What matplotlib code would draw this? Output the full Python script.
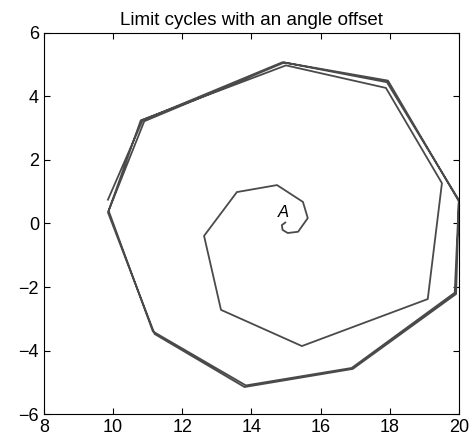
import numpy as np
import matplotlib
matplotlib.use('Agg')
import matplotlib.pyplot as plt

plt.rcParams['font.family'] = ['Liberation Sans', 'DejaVu Sans']

# iterates of the map, starting next to the fixed point A and spiralling out
x_inner = [14.98, 14.88, 14.90, 15.05, 15.35, 15.63, 15.49, 14.74, 13.58, 12.63,
           13.12, 15.46, 19.10, 19.51, 17.89, 15.00, 10.80]
y_inner = [0.03, -0.05, -0.20, -0.30, -0.26, 0.17, 0.68, 1.21, 0.99, -0.39,
           -2.72, -3.86, -2.38, 1.27, 4.27, 4.98, 3.25]

# following turns settling onto the limit cycle
x_cycle = [9.87, 11.15, 13.84, 16.90, 19.88, 20.00, 17.92, 14.95, 10.90,
           9.85, 11.20, 13.80, 16.93, 19.92, 20.00, 17.95, 14.90, 10.85, 9.85]
y_cycle = [0.40, -3.40, -5.10, -4.55, -2.18, 0.74, 4.45, 5.07, 3.22,
           0.35, -3.48, -5.15, -4.58, -2.22, 0.70, 4.50, 5.08, 3.25, 0.75]

xs = np.array(x_inner + x_cycle)
ys = np.array(y_inner + y_cycle)

fig = plt.figure(figsize=(4.76, 4.41), dpi=100)
ax = fig.add_axes([0.0924, 0.0612, 0.8716, 0.8640])

ax.plot(xs, ys, color='#4a4a4a', lw=1.3)
ax.text(14.92, 0.36, 'A', style='italic', fontsize=12, ha='center', va='center')

ax.set_xlim(8, 20)
ax.set_ylim(-6, 6)
ax.set_xticks(np.arange(8, 21, 2))
ax.set_yticks(np.arange(-6, 7, 2))
ax.set_yticklabels(['\u22126', '\u22124', '\u22122', '0', '2', '4', '6'])
ax.tick_params(direction='in', top=True, right=True, labelsize=13, length=4)
ax.set_title('Limit cycles with an angle offset', fontsize=13.5, pad=6)

fig.savefig('out.png', dpi=100)
